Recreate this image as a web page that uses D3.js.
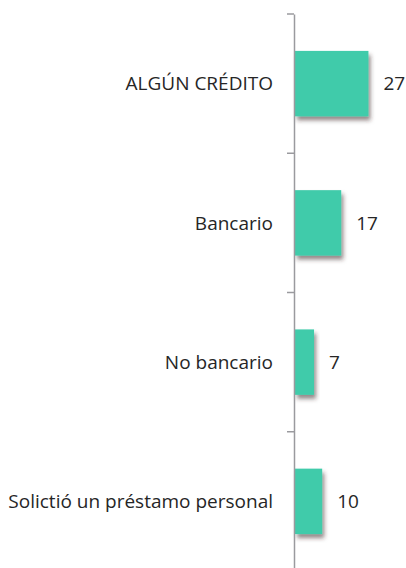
<!DOCTYPE html>
<html lang="es">
<head>
<meta charset="utf-8">
<title>Créditos</title>
<script src="https://d3js.org/d3.v7.min.js"></script>
<style>
  html, body { margin: 0; padding: 0; background: #fff; }
  svg text { font-family: "Open Sans", sans-serif; fill: #262626; }
</style>
</head>
<body>
<svg id="chart"></svg>
<script>
// data
var categories = ["ALGÚN CRÉDITO", "Bancario", "No bancario", "Solictió un préstamo personal"];
var values = [27, 17, 7, 10];

var width = 406, height = 568;
var axisX = 294;

var svg = d3.select("#chart")
  .attr("width", width)
  .attr("height", height);

var defs = svg.append("defs");
var f = defs.append("filter").attr("id", "shadow")
  .attr("x", "-20%").attr("y", "-20%").attr("width", "150%").attr("height", "150%");
f.append("feDropShadow")
  .attr("dx", 2).attr("dy", 4).attr("stdDeviation", 2.2)
  .attr("flood-color", "#3a2a2a").attr("flood-opacity", 0.55);

var y = d3.scaleBand()
  .domain(categories)
  .range([14, 571])
  .paddingInner(0.53)
  .paddingOuter(0.265);

var x = d3.scaleLinear()
  .domain([0, 30])
  .range([axisX + 1, axisX + 1 + 81.6]);

// bars
svg.selectAll("rect.bar")
  .data(values)
  .enter()
  .append("rect")
  .attr("class", "bar")
  .attr("x", x(0))
  .attr("y", function(d, i) { return y(categories[i]); })
  .attr("width", function(d) { return x(d) - x(0); })
  .attr("height", y.bandwidth())
  .attr("fill", "#40CBAA")
  .attr("filter", "url(#shadow)");

// axis
var axis = d3.axisLeft(y).tickSize(0).tickFormat("");
var g = svg.append("g").attr("transform", "translate(" + axisX + ",0)").call(axis);
g.select(".domain").attr("stroke", "#9a9a9e").attr("stroke-width", 1.5);

// band boundary ticks
var bounds = categories.map(function(c) { return y(c) - y.step() * y.paddingInner() / 2; });
bounds.push(bounds[bounds.length - 1] + y.step());
g.selectAll("line.sep")
  .data(bounds)
  .enter()
  .append("line")
  .attr("class", "sep")
  .attr("x1", -7).attr("x2", 0)
  .attr("y1", function(d) { return d; })
  .attr("y2", function(d) { return d; })
  .attr("stroke", "#9a9a9e")
  .attr("stroke-width", 1.5);

// category labels
svg.selectAll("text.cat")
  .data(categories)
  .enter()
  .append("text")
  .attr("class", "cat")
  .attr("x", 273)
  .attr("y", function(d) { return y(d) + y.bandwidth() / 2; })
  .attr("dy", "0.35em")
  .attr("text-anchor", "end")
  .attr("font-size", 19)
  .text(function(d) { return d; });

// value labels
svg.selectAll("text.val")
  .data(values)
  .enter()
  .append("text")
  .attr("class", "val")
  .attr("x", function(d) { return x(d) + 15; })
  .attr("y", function(d, i) { return y(categories[i]) + y.bandwidth() / 2; })
  .attr("dy", "0.35em")
  .attr("font-size", 19)
  .text(function(d) { return d; });
</script>
</body>
</html>
